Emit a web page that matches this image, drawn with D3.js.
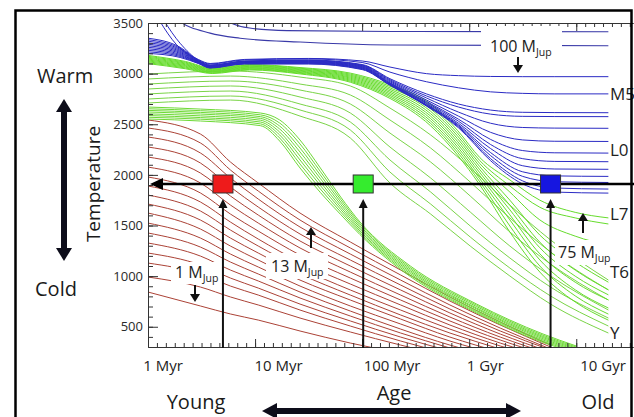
<!DOCTYPE html>
<html>
<head>
<meta charset="utf-8">
<script src="https://cdn.jsdelivr.net/npm/d3@7"></script>
<style>
  body { margin: 0; background: #fff; }
  svg { display: block; }
  text { font-family: "Open Sans", sans-serif; }
</style>
</head>
<body>
<div id="chart"></div>
<script>
// ages are log10(age / yr), temperatures are Teff in K

// stars (blue)
var blueAges = [6.0, 6.3, 6.47, 6.58, 6.9, 7.5, 8.0, 8.26, 8.6, 8.9, 9.2, 9.5, 9.8, 10.3];
var blueTemps = [
  [3720,3250,3140,3100,3140,3150,3125,3065,3000,2980,2972,2970,2970,2970],
  [3800,3300,3135,3095,3135,3145,3110,3015,2920,2860,2820,2805,2800,2800],
  [3350,3260,3130,3085,3125,3135,3090,2950,2800,2700,2640,2618,2615,2614],
  [3335,3250,3127,3082,3122,3131,3085,2940,2780,2670,2600,2578,2576,2575],
  [3320,3240,3124,3079,3119,3127,3080,2930,2760,2620,2510,2468,2462,2460],
  [3305,3230,3121,3076,3116,3123,3075,2920,2740,2580,2420,2345,2332,2330],
  [3290,3220,3118,3073,3113,3119,3070,2910,2725,2550,2350,2240,2218,2215],
  [3275,3210,3115,3070,3110,3115,3065,2905,2715,2530,2300,2160,2133,2130],
  [3260,3200,3112,3067,3107,3111,3060,2900,2705,2510,2260,2090,2058,2055],
  [3245,3190,3109,3064,3104,3107,3055,2895,2695,2495,2220,2030,1990,1985],
  [3230,3180,3106,3061,3101,3103,3050,2890,2690,2485,2190,1985,1932,1925],
  [3215,3170,3103,3058,3098,3099,3045,2888,2685,2475,2160,1940,1870,1860],
  [3200,3160,3100,3055,3095,3095,3040,2885,2680,2465,2140,1910,1830,1820]
];
var starTrackTop = [[6.65,3600],[6.72,3530],[6.95,3450],[7.3,3425],[8.5,3416],[10.3,3414]];
var starTrackSecond = [[6.2,3620],[6.28,3530],[6.58,3400],[6.86,3350],[7.42,3312],[8.26,3283],[10.3,3276]];

// brown dwarfs (green), three groups
var greenAgesA = [6.0, 6.35, 6.6, 6.95, 7.42, 7.89, 8.26, 8.64, 8.89, 9.1, 9.38, 9.66, 9.99, 10.3];
var greenTempsA = [
  [3180,3120,3055,3090,3060,3005,2890,2700,2440,2170,1950,1750,1630,1575],
  [3171,3112,3049,3084,3053,2995,2875,2676,2413,2140,1890,1680,1575,1515],
  [3162,3104,3043,3078,3046,2985,2860,2652,2386,2110,1830,1555,1395,1305],
  [3153,3096,3037,3072,3039,2975,2845,2628,2359,2080,1750,1405,1140,940],
  [3144,3088,3031,3066,3032,2965,2830,2604,2332,2050,1700,1335,1060,865],
  [3135,3080,3025,3060,3025,2955,2815,2580,2305,2020,1655,1280,1000,815],
  [3126,3072,3019,3054,3018,2945,2800,2556,2278,1990,1605,1220,940,765],
  [3117,3064,3013,3048,3011,2935,2785,2532,2251,1960,1555,1160,865,685],
  [3108,3056,3007,3042,3004,2925,2770,2508,2224,1930,1495,1100,805,625],
  [3099,3048,3001,3036,2997,2915,2755,2484,2197,1900,1435,1040,745,565]
];
var greenAgesB = [6.0, 6.77, 7.42, 7.89, 8.26, 8.64, 9.01, 9.38, 9.76, 10.3];
var greenTempsB = [
  [2996,3026,2966,2878,2660,2394,2068,1702,1357,961],
  [2947,2976,2897,2789,2542,2265,1929,1574,1238,863],
  [2897,2927,2838,2700,2413,2127,1791,1436,1119,764],
  [2848,2878,2769,2611,2275,1969,1633,1297,1001,665],
  [2799,2828,2700,2522,2147,1831,1495,1179,892,586],
  [2749,2779,2641,2443,2028,1712,1386,1080,804,507],
  [2710,2739,2581,2364,1920,1613,1297,1001,724,438]
];
var greenAgesC = [6.0, 6.49, 7.05, 7.23, 7.42, 7.61, 7.80, 7.98, 8.45, 9.07, 9.69, 10.0];
var greenTempsC = [
  [2670,2650,2611,2542,2344,2068,1781,1534,1100,724,428,310],
  [2653,2634,2593,2512,2305,2033,1757,1517,1085,712,416,300],
  [2637,2617,2575,2482,2265,1998,1732,1499,1070,699,404,290],
  [2621,2601,2558,2453,2226,1964,1707,1481,1055,685,393,280],
  [2603,2583,2540,2423,2186,1929,1682,1463,1041,675,381,270],
  [2586,2566,2522,2394,2147,1895,1658,1445,1026,660,369,260],
  [2569,2550,2504,2364,2107,1860,1633,1428,1011,647,357,250],
  [2552,2532,2486,2334,2068,1826,1608,1410,996,636,345,240]
];

// planets (red)
var redAges = [6.0, 6.49, 6.77, 7.03, 7.42, 7.89, 8.36, 8.82, 9.29, 9.76];
var redTemps = [
  [2542,2403,2127,1920,1623,1337,1060,794,547,319],
  [2463,2315,2048,1840,1554,1278,1011,754,517,300],
  [2374,2216,1969,1761,1485,1218,961,715,487,280],
  [2275,2117,1880,1682,1416,1159,912,675,458,270],
  [2176,2018,1791,1603,1347,1100,863,636,428,250],
  [2077,1920,1702,1524,1278,1040,813,596,398,230],
  [1979,1821,1613,1445,1208,981,764,557,369,211],
  [1890,1732,1534,1366,1139,922,715,517,339,191],
  [1801,1643,1455,1297,1080,863,665,477,310,171],
  [1712,1554,1376,1228,1021,813,616,438,280],
  [1623,1465,1297,1159,961,764,576,398,250],
  [1524,1376,1218,1090,902,705,527,359,220],
  [1426,1287,1139,1021,843,655,477,319,191],
  [1327,1198,1060,952,784,606,438,290],
  [1228,1110,981,882,724,557,398,260],
  [1129,1021,902,813,665,507,359,230],
  [991,892,794,715,586,448,319,201],
  [843,705,626,566,458,339,240]
];

var tempTicks = [500, 1000, 1500, 2000, 2500, 3000, 3500];
var ageTicks = [6, 7, 8, 9, 10];
var ageTickLabels = ["1 Myr", "10 Myr", "100 Myr", "1 Gyr", "10 Gyr"];
var ageLabelAt = [6.14, 7.22, 8.28, 9.15, 10.25];

var spectralTypes = ["M5", "L0", "L7", "T6", "Y"];
var spectralTeff = [2804, 2245, 1618, 1045, 443];

var markerAges = [6.70, 8.01, 9.76];
var markerColors = ["#ee1b1b", "#35ec2e", "#1616e0"];
var markerTeff = 1910;

var W = 634, H = 417;
var svg = d3.select("#chart").append("svg").attr("width", W).attr("height", H);

var x = d3.scaleLinear().domain([6, 10.53]).range([148, 633]);
var y = d3.scaleLinear().domain([300, 3500]).range([347, 23]);

svg.append("clipPath").attr("id", "plotClip")
  .append("rect")
  .attr("x", 148).attr("y", 23)
  .attr("width", 485).attr("height", 324);

var line = d3.line()
  .x(function(d) { return x(d[0]); })
  .y(function(d) { return y(d[1]); })
  .curve(d3.curveMonotoneX);

function pairUp(ages, temps) {
  return temps.map(function(t, i) { return [ages[i], t]; });
}

var tracks = svg.append("g").attr("clip-path", "url(#plotClip)");

function drawFamily(ages, rows, color, cls) {
  tracks.selectAll("path." + cls)
    .data(rows.map(function(r) { return pairUp(ages, r); }))
    .enter().append("path")
    .attr("class", cls)
    .attr("d", line)
    .attr("fill", "none")
    .attr("stroke", color)
    .attr("stroke-width", 1);
}

drawFamily(redAges, redTemps, "#ab4236", "red");
drawFamily(greenAgesC, greenTempsC, "#6ed936", "greenC");
drawFamily(greenAgesB, greenTempsB, "#7ad447", "greenB");
drawFamily(greenAgesA, greenTempsA, "#66dc2c", "greenA");
drawFamily(blueAges, blueTemps, "#2b2bc4", "blue");

[starTrackTop, starTrackSecond].forEach(function(t) {
  tracks.append("path")
    .attr("d", line(t))
    .attr("fill", "none")
    .attr("stroke", "#3a3aa8")
    .attr("stroke-width", 1.1);
});

// axes
var axisColor = "#333";
function styleAxis(g) {
  g.selectAll("path, line").attr("stroke", axisColor);
}

var minorTemps = d3.range(400, 3500, 100);
var minorAges = d3.range(6, 10.54, 1 / 12);

svg.append("g").attr("transform", "translate(148,0)")
  .call(d3.axisLeft(y).tickValues(minorTemps).tickSize(-5).tickSizeOuter(0).tickFormat(""))
  .call(styleAxis);
var yAx = svg.append("g").attr("transform", "translate(148,0)")
  .call(d3.axisLeft(y).tickValues(tempTicks).tickSize(-10).tickSizeOuter(0).tickPadding(5).tickFormat(d3.format("d")))
  .call(styleAxis);
yAx.selectAll("text")
  .attr("font-family", "'Liberation Sans', Arial, sans-serif")
  .attr("font-size", 13)
  .attr("fill", "#2a2a2a");

svg.append("g").attr("transform", "translate(0,347)")
  .call(d3.axisBottom(x).tickValues(minorAges).tickSize(-4).tickSizeOuter(0).tickFormat(""))
  .call(styleAxis);
svg.append("g").attr("transform", "translate(0,347)")
  .call(d3.axisBottom(x).tickValues(ageTicks).tickSize(-8).tickSizeOuter(0).tickFormat(""))
  .call(styleAxis);
svg.append("g").attr("transform", "translate(0,23)")
  .call(d3.axisTop(x).tickValues(minorAges).tickSize(-4).tickSizeOuter(0).tickFormat(""))
  .call(styleAxis);
svg.append("g").attr("transform", "translate(0,23)")
  .call(d3.axisTop(x).tickValues(ageTicks).tickSize(-8).tickSizeOuter(0).tickFormat(""))
  .call(styleAxis);

svg.selectAll("text.agelab")
  .data(ageTickLabels)
  .enter().append("text")
  .attr("class", "agelab")
  .attr("x", function(d, i) { return x(ageLabelAt[i]); })
  .attr("y", 371)
  .attr("text-anchor", "middle")
  .attr("font-size", 15)
  .attr("fill", "#222")
  .text(function(d) { return d; });

// spectral type labels on the right
svg.selectAll("text.spt")
  .data(spectralTypes)
  .enter().append("text")
  .attr("class", "spt")
  .attr("x", 610)
  .attr("y", function(d, i) { return y(spectralTeff[i]); })
  .attr("dy", "0.36em")
  .attr("font-size", 17)
  .attr("fill", "#222")
  .text(function(d) { return d; });

// mass labels, white box behind, M_Jup subscript
function massLabel(tx, ty, num, box) {
  svg.append("rect")
    .attr("x", box[0]).attr("y", box[1])
    .attr("width", box[2]).attr("height", box[3])
    .attr("fill", "#fff");
  var t = svg.append("text")
    .attr("x", tx).attr("y", ty)
    .attr("font-size", 16)
    .attr("fill", "#222");
  t.append("tspan").text(num + " M");
  t.append("tspan").attr("font-size", 10.5).attr("dy", 4).text("Jup");
}

function arrow(x0, y0, y1) {
  var dir = y1 < y0 ? 1 : -1;
  svg.append("line")
    .attr("x1", x0).attr("x2", x0)
    .attr("y1", y0).attr("y2", y1 + dir * 6)
    .attr("stroke", "#111").attr("stroke-width", 2);
  svg.append("path")
    .attr("d", "M" + (x0 - 5) + "," + (y1 + dir * 8) + "L" + x0 + "," + y1 + "L" + (x0 + 5) + "," + (y1 + dir * 8) + "Z")
    .attr("fill", "#111");
}

massLabel(490, 52, "100", [481, 26, 81, 30]);
arrow(518, 57, 73);
massLabel(175, 278, "1", [171, 262, 51, 22]);
arrow(195, 285, 302);
massLabel(271, 272, "13", [266, 253, 62, 26]);
arrow(311, 248, 227);
massLabel(558, 258, "75", [555, 240, 60, 25]);
arrow(583, 233, 213);

// horizontal line at the marker temperature
var yMark = y(markerTeff);
svg.append("line")
  .attr("x1", 160).attr("x2", 640)
  .attr("y1", yMark).attr("y2", yMark)
  .attr("stroke", "#000").attr("stroke-width", 2.5);
svg.append("path")
  .attr("d", "M150," + yMark + "L163," + (yMark - 6) + "L163," + (yMark + 6) + "Z")
  .attr("fill", "#000");

// vertical arrows from the age axis up to each marker
markerAges.forEach(function(a) {
  var xa = x(a);
  svg.append("line")
    .attr("x1", xa).attr("x2", xa)
    .attr("y1", 348).attr("y2", 206)
    .attr("stroke", "#111").attr("stroke-width", 2);
  svg.append("path")
    .attr("d", "M" + (xa - 4.5) + ",208L" + xa + ",199L" + (xa + 4.5) + ",208Z")
    .attr("fill", "#111");
});

svg.selectAll("rect.marker")
  .data(markerAges)
  .enter().append("rect")
  .attr("class", "marker")
  .attr("x", function(d) { return x(d) - 10; })
  .attr("y", yMark - 9)
  .attr("width", 20).attr("height", 18)
  .attr("fill", function(d, i) { return markerColors[i]; })
  .attr("stroke", "#333").attr("stroke-width", 1);

// side / bottom annotations
function bigText(tx, ty, s, anchor) {
  return svg.append("text")
    .attr("x", tx).attr("y", ty)
    .attr("text-anchor", anchor || "start")
    .attr("font-size", 20)
    .attr("fill", "#1a1a1a")
    .text(s);
}
bigText(37, 83, "Warm");
bigText(35, 296, "Cold");
bigText(196, 409, "Young", "middle");
bigText(394, 400, "Age", "middle");
bigText(598, 409, "Old", "middle");
svg.append("text")
  .attr("transform", "translate(100,184) rotate(-90)")
  .attr("text-anchor", "middle")
  .attr("font-size", 19)
  .attr("fill", "#1a1a1a")
  .text("Temperature");

var arrowFill = "#0d0d1a";
// vertical double arrow
svg.append("rect").attr("x", 61).attr("y", 110).attr("width", 6).attr("height", 140).attr("fill", arrowFill);
svg.append("path").attr("d", "M56,112L64,99L72,112Z").attr("fill", arrowFill);
svg.append("path").attr("d", "M56,248L64,261L72,248Z").attr("fill", arrowFill);
// horizontal double arrow
svg.append("rect").attr("x", 274).attr("y", 408).attr("width", 234).attr("height", 6).attr("fill", arrowFill);
svg.append("path").attr("d", "M277,403L262,411L277,419Z").attr("fill", arrowFill);
svg.append("path").attr("d", "M506,403L521,411L506,419Z").attr("fill", arrowFill);

// outer frame
svg.append("rect")
  .attr("x", 15.5).attr("y", 10.5)
  .attr("width", 616).attr("height", 450)
  .attr("fill", "none")
  .attr("stroke", "#000").attr("stroke-width", 2.5);
</script>
</body>
</html>
